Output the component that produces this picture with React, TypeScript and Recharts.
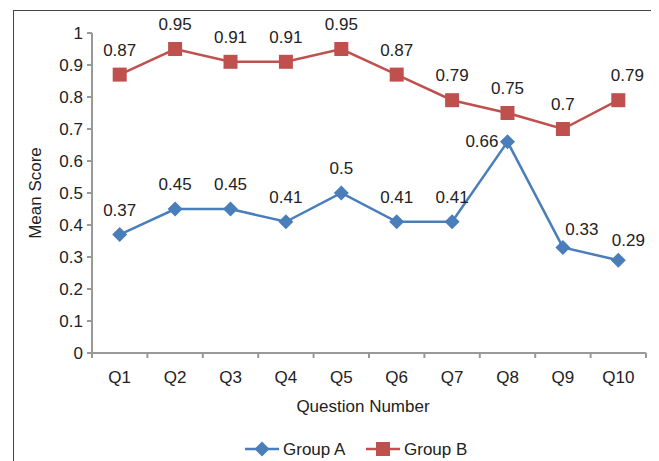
import { LineChart, Line, XAxis, YAxis, Legend, LabelList } from "recharts";

const questions = ["Q1", "Q2", "Q3", "Q4", "Q5", "Q6", "Q7", "Q8", "Q9", "Q10"];
const groupA = [0.37, 0.45, 0.45, 0.41, 0.5, 0.41, 0.41, 0.66, 0.33, 0.29];
const groupB = [0.87, 0.95, 0.91, 0.91, 0.95, 0.87, 0.79, 0.75, 0.7, 0.79];
const yTicks = [0, 0.1, 0.2, 0.3, 0.4, 0.5, 0.6, 0.7, 0.8, 0.9, 1];

const BLUE = "#4a7ebb";
const RED = "#c0504d";
const TEXT = "#222";
const AXIS = "#999";
const FONT = "'Liberation Sans', Arial, sans-serif";

// label nudges by point index (dx, dy, anchor); default sits above the marker
type Nudge = { dx: number; dy: number; anchor: "start" | "middle" | "end" };
const nudgeA: Record<number, Nudge> = {
  7: { dx: -9, dy: 5, anchor: "end" },
  8: { dx: 19, dy: -12, anchor: "middle" },
  9: { dx: 10, dy: -14, anchor: "middle" }
};
const nudgeB: Record<number, Nudge> = {
  9: { dx: 9, dy: -19, anchor: "middle" }
};

const data = questions.map((q, i) => ({ q, a: groupA[i], b: groupB[i] }));

const PLOT_W = 554;
const BAND = PLOT_W / questions.length;

function Diamond({ cx, cy }: any) {
  if (cx == null || cy == null) return null;
  const h = 7.5;
  return <path d={`M${cx},${cy - h}L${cx + h},${cy}L${cx},${cy + h}L${cx - h},${cy}Z`} fill={BLUE} />;
}

function Square({ cx, cy }: any) {
  if (cx == null || cy == null) return null;
  const s = 14;
  return <rect x={cx - s / 2} y={cy - s / 2} width={s} height={s} fill={RED} />;
}

const makeLabel = (nudges: Record<number, Nudge>) => (props: any) => {
  const { x, y, value, index } = props;
  const n = nudges[index] ?? { dx: 0, dy: -19, anchor: "middle" };
  return (
    <text x={x + n.dx} y={y + n.dy} textAnchor={n.anchor} fill={TEXT} fontSize={17} fontFamily={FONT}>
      {value}
    </text>
  );
};

function XTick({ x, y, payload, index }: any) {
  const top = y - 5;
  return (
    <g>
      <line x1={x - BAND / 2} x2={x - BAND / 2} y1={top} y2={top + 5} stroke={AXIS} strokeWidth={2} />
      {index === questions.length - 1 ? (
        <line x1={x + BAND / 2} x2={x + BAND / 2} y1={top} y2={top + 5} stroke={AXIS} strokeWidth={2} />
      ) : null}
      <text x={x} y={y + 25} textAnchor="middle" fill={TEXT} fontSize={17} fontFamily={FONT}>
        {payload.value}
      </text>
    </g>
  );
}

function LegendBox() {
  return (
    <svg width={638} height={30} style={{ display: "block" }}>
      <g fontFamily={FONT} fontSize={17} fill={TEXT}>
        <line x1={237} x2={271} y1={18} y2={18} stroke={BLUE} strokeWidth={2.5} />
        <Diamond cx={254} cy={18} />
        <text x={275} y={24}>Group A</text>
        <line x1={358} x2={392} y1={18} y2={18} stroke={RED} strokeWidth={2.5} />
        <Square cx={375} cy={18} />
        <text x={396} y={24}>Group B</text>
      </g>
    </svg>
  );
}

export default function App() {
  return (
    <div style={{ position: "relative", width: 651, height: 453 }}>
      <div
        style={{
          position: "absolute",
          left: 5,
          top: 2,
          width: 643,
          height: 460,
          borderTop: "1.5px solid #444",
          borderLeft: "1.5px solid #444",
          borderRight: "1.5px solid #444"
        }}
      />
      <LineChart width={651} height={453} data={data} margin={{ top: 25, right: 13, bottom: 0, left: 0 }}>
        <XAxis
          dataKey="q"
          height={78}
          padding={{ left: BAND / 2, right: BAND / 2 }}
          stroke={AXIS}
          strokeWidth={2}
          tickLine={false}
          tickSize={5}
          tickMargin={0}
          interval={0}
          tick={<XTick />}
          label={{
            content: ({ viewBox }: any) => (
              <text
                x={viewBox.x + viewBox.width / 2 - 6}
                y={viewBox.y + 59}
                textAnchor="middle"
                fill={TEXT}
                fontSize={17}
                fontFamily={FONT}
              >
                Question Number
              </text>
            )
          }}
        />
        <YAxis
          width={84}
          domain={[0, 1]}
          ticks={yTicks}
          stroke={AXIS}
          strokeWidth={2}
          tickSize={5}
          tickMargin={4}
          tick={{ fill: TEXT, fontSize: 17, fontFamily: FONT }}
          tickLine={{ stroke: AXIS, strokeWidth: 2 }}
          label={{
            content: ({ viewBox }: any) => {
              const cx = 27;
              const cy = viewBox.y + viewBox.height / 2;
              return (
                <text
                  x={cx}
                  y={cy}
                  transform={`rotate(-90, ${cx}, ${cy})`}
                  textAnchor="middle"
                  dominantBaseline="central"
                  fill={TEXT}
                  fontSize={17}
                  fontFamily={FONT}
                >
                  Mean Score
                </text>
              );
            }
          }}
        />
        <Legend verticalAlign="bottom" height={30} content={() => <LegendBox />} />
        <Line
          name="Group A"
          dataKey="a"
          stroke={BLUE}
          strokeWidth={2.5}
          dot={<Diamond />}
          activeDot={false}
          isAnimationActive={false}
        >
          <LabelList dataKey="a" content={makeLabel(nudgeA)} />
        </Line>
        <Line
          name="Group B"
          dataKey="b"
          stroke={RED}
          strokeWidth={2.5}
          dot={<Square />}
          activeDot={false}
          isAnimationActive={false}
        >
          <LabelList dataKey="b" content={makeLabel(nudgeB)} />
        </Line>
      </LineChart>
    </div>
  );
}
